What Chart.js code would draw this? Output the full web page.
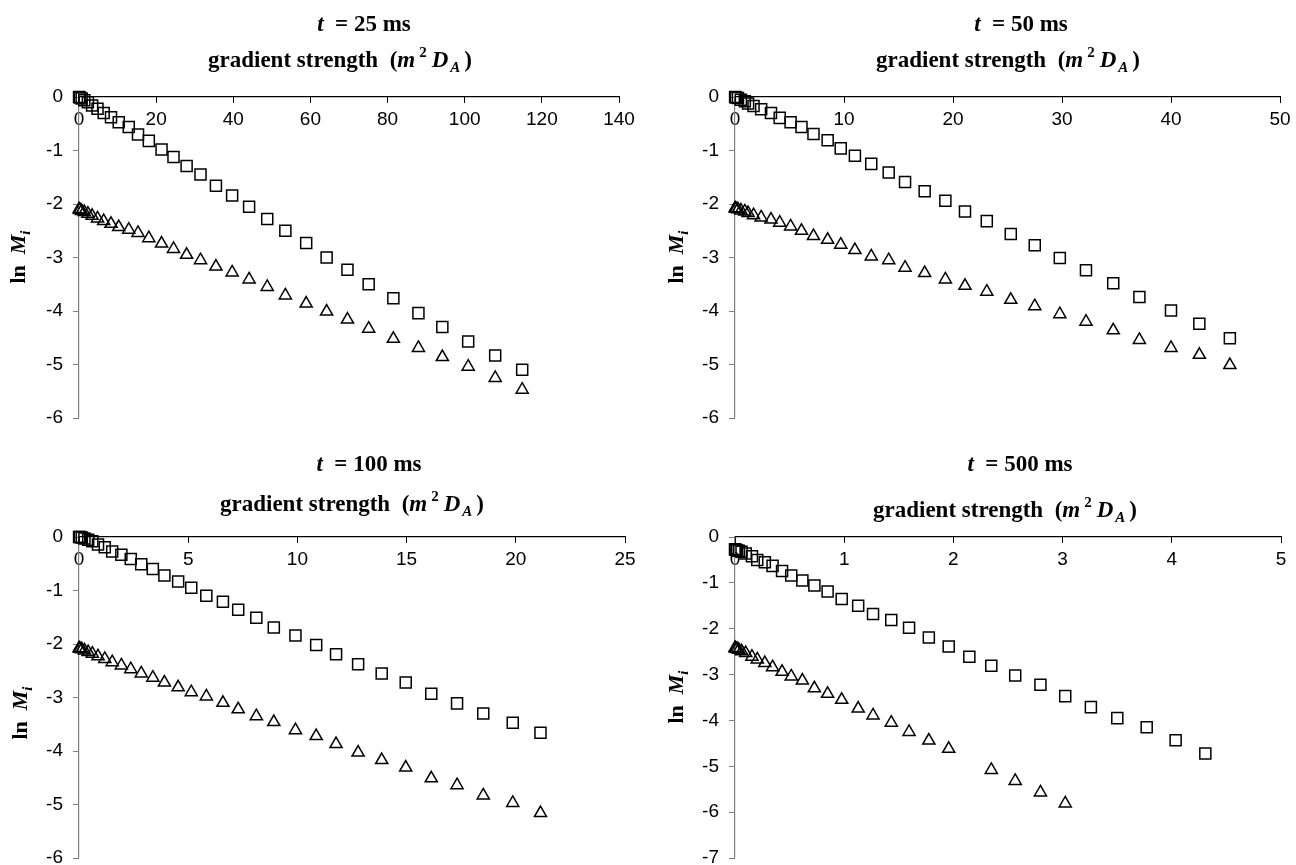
<!DOCTYPE html>
<html lang="en">
<head>
<meta charset="UTF-8">
<title>ln Mi against gradient strength</title>
<script src="https://cdn.jsdelivr.net/npm/chart.js"></script>
<style>
  html, body { margin: 0; padding: 0; background: #fff; overflow: hidden; }
  body { width: 1296px; height: 865px; position: relative; }
  canvas { position: absolute; }
</style>
</head>
<body>
<canvas id="c25"></canvas>
<canvas id="c50"></canvas>
<canvas id="c100"></canvas>
<canvas id="c500"></canvas>
<script>
// t = 25 ms
const gradient25 = [0.02, 0.24, 0.69, 1.37, 2.3, 3.4, 4.8, 6.4, 8.3, 10.3, 12.9, 15.3, 18.1, 21.4, 24.5, 27.9,
  31.5, 35.5, 39.7, 44.1, 48.8, 53.5, 58.9, 64.2, 69.6, 75.1, 81.5, 88.0, 94.2, 100.9, 107.9, 114.9];
const squares25 = [0, -0.01, -0.03, -0.06, -0.10, -0.16, -0.22, -0.30, -0.38, -0.47, -0.56, -0.70, -0.82, -0.98, -1.12, -1.29,
  -1.45, -1.66, -1.84, -2.05, -2.28, -2.50, -2.73, -3.00, -3.23, -3.50, -3.76, -4.04, -4.30, -4.57, -4.83, -5.10];
const triangles25 = [-2.10, -2.11, -2.13, -2.15, -2.18, -2.22, -2.27, -2.32, -2.37, -2.43, -2.48, -2.54, -2.64, -2.74, -2.84, -2.95,
  -3.05, -3.17, -3.28, -3.41, -3.55, -3.71, -3.86, -4.01, -4.16, -4.33, -4.52, -4.69, -4.86, -5.04, -5.25, -5.47];

// t = 50 ms
const gradient50 = [0.01, 0.09, 0.27, 0.54, 0.90, 1.2, 1.7, 2.4, 3.3, 4.1, 5.1, 6.1, 7.2, 8.5, 9.7, 11.0,
  12.5, 14.1, 15.6, 17.4, 19.3, 21.1, 23.1, 25.3, 27.5, 29.8, 32.2, 34.7, 37.1, 40.0, 42.6, 45.4];
const squares50 = [0, -0.01, -0.02, -0.05, -0.08, -0.12, -0.17, -0.23, -0.30, -0.39, -0.47, -0.56, -0.69, -0.81, -0.96, -1.10,
  -1.25, -1.41, -1.59, -1.76, -1.94, -2.14, -2.32, -2.56, -2.77, -3.01, -3.24, -3.48, -3.74, -3.99, -4.24, -4.51];
const triangles50 = [-2.08, -2.09, -2.10, -2.12, -2.14, -2.17, -2.21, -2.25, -2.29, -2.35, -2.42, -2.50, -2.60, -2.67, -2.76, -2.86,
  -2.98, -3.05, -3.19, -3.29, -3.41, -3.53, -3.64, -3.79, -3.91, -4.06, -4.20, -4.36, -4.54, -4.69, -4.82, -5.01];

// t = 100 ms
const gradient100 = [0.004, 0.044, 0.13, 0.25, 0.42, 0.61, 0.87, 1.18, 1.52, 1.94, 2.37, 2.85, 3.38, 3.91, 4.54, 5.14,
  5.83, 6.59, 7.29, 8.12, 8.92, 9.91, 10.86, 11.77, 12.78, 13.86, 14.96, 16.13, 17.31, 18.51, 19.86, 21.13];
const squares100 = [0, 0, -0.01, -0.03, -0.05, -0.08, -0.14, -0.19, -0.27, -0.33, -0.41, -0.51, -0.60, -0.72, -0.83, -0.95,
  -1.10, -1.21, -1.36, -1.51, -1.69, -1.84, -2.02, -2.19, -2.38, -2.55, -2.72, -2.93, -3.11, -3.30, -3.47, -3.66];
const triangles100 = [-2.08, -2.09, -2.10, -2.12, -2.15, -2.18, -2.23, -2.28, -2.34, -2.40, -2.47, -2.55, -2.63, -2.72, -2.81, -2.90,
  -2.98, -3.10, -3.22, -3.35, -3.46, -3.61, -3.72, -3.87, -4.03, -4.17, -4.31, -4.51, -4.64, -4.83, -4.97, -5.16];

// t = 500 ms (one triangle missing, triangles stop early)
const gradient500 = [0.0, 0.006, 0.018, 0.035, 0.06, 0.098, 0.155, 0.204, 0.273, 0.344, 0.431, 0.515, 0.617, 0.727, 0.848, 0.977,
  1.128, 1.264, 1.431, 1.594, 1.775, 1.957, 2.146, 2.347, 2.566, 2.797, 3.024, 3.259, 3.501, 3.770, 4.035, 4.307];
const squares500 = [-0.27, -0.28, -0.29, -0.30, -0.32, -0.36, -0.42, -0.50, -0.55, -0.63, -0.74, -0.84, -0.95, -1.06, -1.19, -1.35,
  -1.50, -1.68, -1.81, -1.98, -2.19, -2.39, -2.61, -2.81, -3.02, -3.22, -3.47, -3.71, -3.95, -4.15, -4.43, -4.72];
const triangles500 = [-2.42, -2.43, -2.44, -2.46, -2.49, -2.53, -2.61, -2.67, -2.75, -2.84, -2.94, -3.04, -3.13, -3.30, -3.42, -3.55,
  -3.74, -3.89, -4.05, -4.25, -4.44, -4.62, null, -5.08, -5.32, -5.57, -5.81, null, null, null, null, null];

const SERIF = '"Liberation Serif", "Times New Roman", serif';
const SANS = '"Liberation Sans", Arial, sans-serif';
const CW = 700, CH = 520;

// page layout of each panel: canvas origin, plot area (l, t, r, b), title spots
const panels = [
  { id: 'c25', ms: '25', xs: gradient25, sq: squares25, tr: triangles25, xMax: 140, xStep: 20, yMin: -6,
    cx: 0, cy: 0, area: [79, 97, 619, 418], title: [364, 23], sub: [340, 62], yTitle: [19, 257] },
  { id: 'c50', ms: '50', xs: gradient50, sq: squares50, tr: triangles50, xMax: 50, xStep: 10, yMin: -6,
    cx: 648, cy: 0, area: [735, 97, 1280, 418], title: [1021, 23], sub: [1008, 62], yTitle: [677, 257] },
  { id: 'c100', ms: '100', xs: gradient100, sq: squares100, tr: triangles100, xMax: 25, xStep: 5, yMin: -6,
    cx: 0, cy: 400, area: [79, 537, 625, 858], title: [369, 463], sub: [352, 506], yTitle: [21, 713] },
  { id: 'c500', ms: '500', xs: gradient500, sq: squares500, tr: triangles500, xMax: 5, xStep: 1, yMin: -7,
    cx: 648, cy: 400, area: [735, 537, 1281, 858], title: [1020, 463], sub: [1005, 512], yTitle: [677, 697] }
];

// draws a run of differently styled pieces centred on cx; gap = extra space before a piece
function drawRich(ctx, parts, cx, y) {
  let w = 0;
  parts.forEach(p => { ctx.font = p.f; w += ctx.measureText(p.t).width + (p.gap || 0); });
  let x = cx - w / 2;
  parts.forEach(p => {
    ctx.font = p.f;
    x += p.gap || 0;
    ctx.fillText(p.t, x, y + (p.dy || 0));
    x += ctx.measureText(p.t).width;
  });
}

function textPlugin(p) {
  const B = 'bold 23px ' + SERIF, BI = 'italic bold 23px ' + SERIF;
  const Bs = 'bold 15px ' + SERIF, BIs = 'italic bold 15px ' + SERIF;
  const YB = 'bold 22px ' + SERIF, YBI = 'italic bold 22px ' + SERIF;
  return {
    id: 'panelText',
    afterDraw(chart) {
      const ctx = chart.ctx;
      ctx.save();
      ctx.fillStyle = '#000';
      ctx.textAlign = 'left';
      ctx.textBaseline = 'alphabetic';
      drawRich(ctx, [{ t: 't', f: BI }, { t: '  = ' + p.ms + ' ms', f: B }],
        p.title[0] - p.cx, p.title[1] - p.cy + 8);
      drawRich(ctx, [
        { t: 'gradient strength  (', f: B }, { t: 'm', f: BI }, { t: '2', f: Bs, dy: -10, gap: 4 },
        { t: 'D', f: BI, gap: 5 }, { t: 'A', f: BIs, dy: 5, gap: 2 }, { t: ')', f: B, gap: 4 }
      ], p.sub[0] - p.cx, p.sub[1] - p.cy + 5);
      ctx.translate(p.yTitle[0] - p.cx + 6, p.yTitle[1] - p.cy);
      ctx.rotate(-Math.PI / 2);
      drawRich(ctx, [{ t: 'ln  ', f: YB }, { t: 'M', f: YBI }, { t: 'i', f: 'italic bold 15px ' + SERIF, dy: 5 }], 0, 0);
      ctx.restore();
    }
  };
}

function points(xs, ys) {
  return xs.map((x, i) => ({ x: x, y: ys[i] })).filter(pt => pt.y !== null);
}

panels.forEach(p => {
  const canvas = document.getElementById(p.id);
  canvas.width = CW;
  canvas.height = CH;
  canvas.style.left = p.cx + 'px';
  canvas.style.top = p.cy + 'px';
  const [l, t, r, b] = p.area;

  new Chart(canvas.getContext('2d'), {
    type: 'scatter',
    data: {
      datasets: [
        { label: 'squares', data: points(p.xs, p.sq), pointStyle: 'rect', pointRadius: 7.8,
          borderColor: '#000', backgroundColor: 'rgba(0,0,0,0)', borderWidth: 1.5, clip: false },
        { label: 'triangles', data: points(p.xs, p.tr), pointStyle: 'triangle', pointRadius: 7,
          borderColor: '#000', backgroundColor: 'rgba(0,0,0,0)', borderWidth: 1.5, clip: false }
      ]
    },
    options: {
      responsive: false,
      animation: false,
      events: [],
      layout: { padding: { left: l - p.cx - 40, top: t - p.cy - 10, right: p.cx + CW - r, bottom: p.cy + CH - b } },
      plugins: { legend: { display: false }, tooltip: { enabled: false } },
      scales: {
        x: {
          type: 'linear', position: 'top', min: 0, max: p.xMax,
          ticks: { stepSize: p.xStep, mirror: true, padding: 11, autoSkip: false, maxRotation: 0,
            color: '#000', font: { family: SANS, size: 19 } },
          grid: { drawOnChartArea: false, tickLength: -6, color: '#000', tickWidth: 1 },
          border: { color: '#000', width: 1.2 },
          afterFit: s => { s.height = 10; }
        },
        y: {
          min: p.yMin, max: 0,
          ticks: { stepSize: 1, padding: 10, color: '#000', font: { family: SANS, size: 19 } },
          grid: { drawOnChartArea: false, tickLength: 6, color: '#808080' },
          border: { color: '#808080', width: 1.2 },
          afterFit: s => { s.width = 40; }
        }
      }
    },
    plugins: [textPlugin(p)]
  });
});
</script>
</body>
</html>
